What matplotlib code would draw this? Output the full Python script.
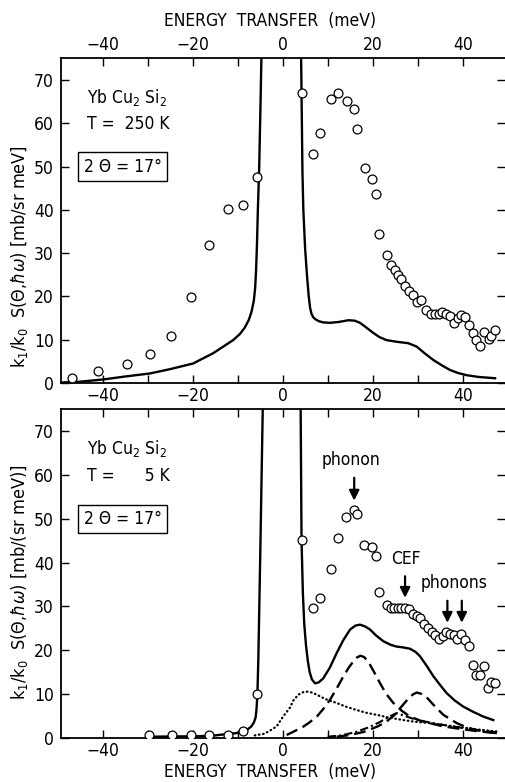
import matplotlib
matplotlib.use("Agg")
import matplotlib.pyplot as plt
from matplotlib.ticker import MultipleLocator

plt.rcParams["font.family"] = ["DejaVu Sans"]
plt.rcParams["font.stretch"] = "condensed"
plt.rcParams["mathtext.fontset"] = "dejavusans"

# ---- T = 250 K ----
t250_e = [-46.9, -41.0, -34.5, -29.5, -24.7, -20.4, -16.3, -12.2, -8.8, -5.7,
          4.4, 6.7, 8.4, 10.8, 12.4, 14.2, 15.8, 16.6, 18.3, 19.8, 20.7, 21.5,
          23.2, 24.0, 24.9, 25.7, 26.4, 27.2, 28.1, 29.0, 29.8, 30.8, 31.8, 32.9,
          33.8, 34.7, 35.5, 36.4, 37.2, 38.1, 39.0, 39.7, 40.6, 41.4, 42.2, 43.0,
          43.8, 44.8, 45.8, 46.4, 47.2]
t250_s = [1.2, 2.8, 4.3, 6.6, 10.9, 19.9, 31.9, 40.1, 41.1, 47.5,
          66.9, 53.0, 57.7, 65.5, 66.9, 65.2, 63.3, 58.7, 49.7, 47.2, 43.7, 34.4,
          29.6, 27.3, 26.0, 24.9, 24.0, 22.5, 21.2, 20.3, 18.8, 19.1, 16.9, 15.9,
          15.9, 15.9, 16.5, 15.9, 15.5, 13.9, 14.9, 15.8, 15.3, 13.5, 11.6, 9.9,
          8.6, 11.7, 10.2, 10.8, 12.2]

fit250_left_e = [-49.3, -45, -40, -35, -29.5, -25, -19.9, -15.4, -11.0, -9.5,
                 -8.4, -7.5, -6.9, -6.4, -6.1, -5.9, -5.7, -5.5, -5.2, -4.9, -4.7]
fit250_left_s = [0.1, 0.3, 0.8, 1.5, 2.2, 3.2, 4.5, 6.9, 9.9, 11.3,
                 12.8, 14.6, 16.5, 19.0, 22.0, 26.0, 32.0, 40.0, 50.0, 65.0, 76]
fit250_right_e = [4.1, 4.4, 4.6, 5.0, 5.4, 5.8, 6.1, 6.4, 6.8, 7.3, 8.0, 9.0,
                  10.5, 12.5, 14.6, 16.0, 17.2, 18.6, 20.1, 21.5, 23.1, 25.5,
                  27.9, 29.8, 31.5, 33.5, 35.5, 37.2, 39.0, 40.9, 43.5, 47.2]
fit250_right_s = [76, 49.0, 40.0, 31.0, 25.0, 20.0, 17.4, 16.0, 15.2, 14.7, 14.3, 14.0,
                  13.9, 14.1, 14.5, 14.4, 13.9, 12.8, 11.6, 10.6, 9.9, 9.5,
                  9.2, 8.4, 6.9, 5.3, 4.0, 3.0, 2.3, 1.8, 1.4, 1.1]

# ---- T = 5 K ----
t5_e = [-29.7, -24.6, -20.4, -16.4, -12.2, -8.9, -5.7, 4.2, 6.8, 8.4, 10.8,
        12.4, 14.1, 15.8, 16.5, 18.1, 19.8, 20.7, 21.5, 23.2, 24.0, 24.8, 25.6,
        26.4, 27.2, 28.1, 29.0, 29.8, 30.6, 31.3, 32.2, 33.1, 33.9, 34.7, 35.6,
        36.4, 37.2, 38.0, 38.8, 39.7, 40.5, 41.4, 42.2, 43.0, 43.8, 44.7, 45.6,
        46.3, 47.2]
t5_s = [0.5, 0.5, 0.5, 0.5, 0.6, 1.6, 10.0, 45.2, 29.5, 31.9, 38.6,
        45.6, 50.3, 52.0, 51.1, 43.9, 43.5, 41.4, 33.3, 30.3, 29.7, 29.5, 29.5,
        29.5, 29.6, 29.4, 28.3, 27.7, 27.4, 26.0, 25.1, 24.1, 23.4, 22.5, 23.3,
        24.1, 23.7, 23.5, 22.5, 23.6, 22.4, 20.9, 16.5, 14.4, 14.4, 16.3, 11.3,
        12.7, 12.5]

fit5_left_e = [-30, -20, -16, -12.4, -10.5, -9.0, -7.9, -7.0, -6.4, -6.0, -5.8,
               -5.6, -5.4, -5.0, -4.4]
fit5_left_s = [0.2, 0.3, 0.4, 0.8, 1.0, 1.3, 1.8, 2.5, 3.4, 4.6, 6.5,
               10.0, 17.8, 40, 76]
fit5_right_e = [4.0, 4.2, 4.5, 4.8, 5.2, 5.6, 6.0, 6.5, 7.2, 8.0, 9.0, 10.5,
                12.0, 13.5, 15.0, 16.2, 17.2, 18.3, 19.4, 20.8, 22.4, 24.0,
                25.3, 26.8, 28.3, 29.5, 30.5, 32.0, 33.5, 35.0, 36.4, 38.2,
                40.1, 42.3, 44.6, 46.8]
fit5_right_s = [76, 45.0, 33.0, 26.0, 21.0, 17.5, 15.0, 13.3, 12.4, 12.6, 13.5, 16.0,
                19.3, 22.3, 24.7, 25.6, 25.8, 25.4, 24.7, 23.3, 22.0, 21.2,
                20.8, 20.6, 20.3, 19.6, 18.6, 16.4, 14.0, 12.0, 10.2, 8.5,
                7.1, 5.9, 4.8, 4.0]

phonon_e = [0.9, 2.5, 4.6, 6.0, 7.6, 9.0, 10.5, 12.0, 13.5, 14.7, 15.7, 16.5,
            17.3, 18.1, 19.0, 20.2, 21.6, 23.0, 24.6, 26.5, 28.3, 30.5, 32.7,
            35.5, 38.7, 43.0, 47.6]
phonon_s = [0.6, 1.4, 2.5, 3.5, 4.8, 6.5, 8.6, 11.2, 14.0, 16.0, 17.4, 18.3,
            18.7, 18.4, 17.4, 15.2, 12.5, 10.0, 7.9, 6.1, 4.8, 3.9, 3.3,
            2.6, 2.1, 1.5, 1.0]

cef_e = [12.0, 15.0, 18.0, 21.0, 23.0, 25.0, 26.5, 28.0, 29.0, 29.8, 30.8,
         32.0, 33.5, 35.7, 38.7, 41.0, 43.1, 45.5, 47.6]
cef_s = [0.2, 0.6, 1.3, 2.5, 3.6, 5.3, 7.2, 9.0, 9.9, 10.3, 10.0,
         9.2, 7.5, 5.2, 3.3, 2.3, 1.7, 1.3, 1.0]

hiph_e = [10.0, 13.0, 16.0, 19.0, 21.5, 23.5, 25.3, 27.0, 29.0, 31.5, 34.5,
          37.5, 40.5, 44.0, 47.6]
hiph_s = [0.2, 0.5, 1.2, 2.3, 3.5, 4.7, 5.6, 5.0, 4.3, 3.7, 3.1,
          2.6, 2.1, 1.6, 1.2]

quasi_e = [-6.2, -4.0, -2.8, -1.3, 0.1, 1.6, 2.4, 3.5, 4.6, 5.5, 6.5, 7.6,
           9.5, 12.0, 14.0, 16.4, 18.5, 20.9, 23.5, 26.8, 29.5, 32.7, 35.5,
           38.7, 43.0, 47.6]
quasi_s = [0.5, 0.9, 1.6, 2.6, 4.8, 6.8, 8.5, 9.8, 10.4, 10.5, 10.3, 9.8,
           8.8, 7.9, 7.1, 6.3, 5.7, 5.2, 4.6, 4.0, 3.6, 3.3, 2.9,
           2.5, 1.9, 1.4]

W, H = 505, 782
fig = plt.figure(figsize=(W / 100, H / 100), dpi=100)


def px_axes(x0, y0, x1, y1):
    return fig.add_axes([x0 / W, 1 - y1 / H, (x1 - x0) / W, (y1 - y0) / H])


ax1 = px_axes(60.7, 58.3, 505, 383)
ax2 = px_axes(60.7, 409.3, 505, 737.6)

LW = 1.7
MK = dict(marker="o", ls="none", ms=6.4, mfc="white", mec="black", mew=0.9, zorder=5)


def style(ax, top_labels, bottom_labels):
    ax.set_xlim(-49.3, 49.4)
    ax.set_ylim(0, 75)
    ax.xaxis.set_major_locator(MultipleLocator(20))
    ax.xaxis.set_minor_locator(MultipleLocator(10))
    ax.yaxis.set_major_locator(MultipleLocator(10))
    ax.tick_params(which="both", direction="in", length=6, width=1.0,
                   top=True, right=True, labelsize=12.5,
                   labeltop=top_labels, labelbottom=bottom_labels)
    ax.tick_params(axis="x", pad=3)
    ax.tick_params(axis="y", pad=5)
    ax.spines["right"].set_visible(False)
    for s in ["left", "top", "bottom"]:
        ax.spines[s].set_linewidth(1.3)
    ax.set_xticklabels([f"{int(v)}".replace("-", "\u2212") for v in ax.get_xticks()])


def sample_box(ax, t_label):
    ax.text(-43.5, 66, r"Yb Cu$_2$ Si$_2$", fontsize=12.5, va="center")
    ax.text(-43.5, 59.8, t_label, fontsize=12.5, va="center")
    ax.text(-44.2, 50.0, "2 \u0398 = 17\u00b0", fontsize=12.5, va="center",
            bbox=dict(boxstyle="square,pad=0.3", fc="white", ec="black", lw=1.0))


# top panel
ax1.plot(fit250_left_e, fit250_left_s, color="black", lw=LW)
ax1.plot(fit250_right_e, fit250_right_s, color="black", lw=LW)
ax1.plot(t250_e, t250_s, **MK)
style(ax1, True, True)
sample_box(ax1, "T =  250 K")

# bottom panel
ax2.plot(fit5_left_e, fit5_left_s, color="black", lw=LW)
ax2.plot(fit5_right_e, fit5_right_s, color="black", lw=LW)
ax2.plot(phonon_e, phonon_s, color="black", lw=1.7, dashes=(5, 2.5))
ax2.plot(cef_e, cef_s, color="black", lw=1.7, dashes=(5, 2.5))
ax2.plot(hiph_e, hiph_s, color="black", lw=1.5, dashes=(4, 1.5, 1, 1.5))
ax2.plot(quasi_e, quasi_s, color="black", lw=1.6, ls=(0, (0.3, 1.6)),
         dash_capstyle="round")
ax2.plot(t5_e, t5_s, **MK)
style(ax2, False, True)
sample_box(ax2, "T =      5 K")

arrow = dict(arrowstyle="-|>,head_length=0.6,head_width=0.3", color="black", lw=1.6)
ax2.annotate("", xy=(15.9, 53.5), xytext=(15.9, 60), arrowprops=arrow)
ax2.text(15.2, 61.3, "phonon", fontsize=12.5, ha="center", va="bottom")
ax2.annotate("", xy=(27.2, 31.3), xytext=(27.2, 37.5), arrowprops=arrow)
ax2.text(27.4, 38.8, "CEF", fontsize=12.5, ha="center", va="bottom")
ax2.annotate("", xy=(36.6, 25.6), xytext=(36.6, 31.9), arrowprops=arrow)
ax2.annotate("", xy=(39.8, 25.6), xytext=(39.8, 31.9), arrowprops=arrow)
ax2.text(38.0, 33.3, "phonons", fontsize=12.5, ha="center", va="bottom")

# axis titles
fig.text(270 / W, 1 - 21 / H, "ENERGY  TRANSFER  (meV)", fontsize=12.5, ha="center", va="center")
fig.text(270 / W, 1 - 772 / H, "ENERGY  TRANSFER  (meV)", fontsize=12.5, ha="center", va="center")
fig.text(20 / W, 1 - 257 / H, r"k$_1$/k$_0$  S($\Theta$,$\hbar\omega$) [mb/sr meV]",
         fontsize=13, rotation=90, ha="center", va="center")
fig.text(20 / W, 1 - 582 / H, r"k$_1$/k$_0$  S($\Theta$,$\hbar\omega$) [mb/(sr meV)]",
         fontsize=13, rotation=90, ha="center", va="center")

fig.savefig("out.png", dpi=100)
